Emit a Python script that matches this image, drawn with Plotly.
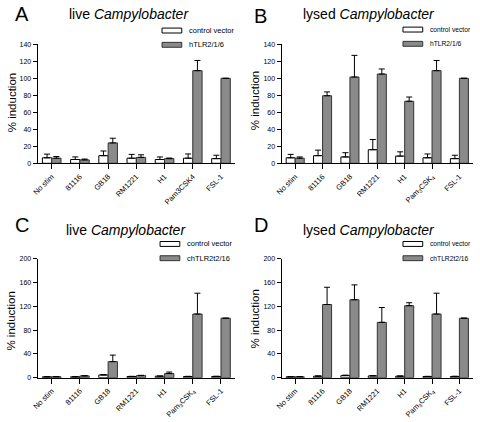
import plotly.graph_objects as go
from plotly.subplots import make_subplots

# ---- data ----
cats_live_h = ["No stim", "81116", "GB18", "RM1221", "H1", "Pam3CSK4", "FSL-1"]
cats_sub = ["No stim", "81116", "GB18", "RM1221", "H1", "Pam<sub>3</sub>CSK<sub>4</sub>", "FSL-1"]

A_ctrl = [6.5, 4.5, 9, 6, 4.5, 6, 5.5]
A_ctrl_err = [4.3, 3, 5.5, 4.5, 3, 5, 4]
A_tlr = [6, 4, 24, 7, 5.5, 109, 100]
A_tlr_err = [2, 1, 5.5, 3, 0.7, 12, 0]

B_ctrl = [6.5, 9, 7.5, 16, 8.5, 6.5, 5.5]
B_ctrl_err = [4, 6.5, 5, 12, 5, 4.5, 4]
B_tlr = [6, 79.5, 101.5, 105, 73, 109, 100]
B_tlr_err = [1.5, 4.5, 25.5, 6, 5, 12, 0]

C_ctrl = [1.5, 1.5, 4.5, 2, 2.5, 2, 2]
C_ctrl_err = [0.3, 0.3, 0.8, 0.3, 0.4, 0.3, 0.5]
C_tlr = [1.5, 3, 27, 3.5, 7, 107, 100]
C_tlr_err = [0.5, 0.5, 11, 0.5, 2.5, 35, 0]

D_ctrl = [1.5, 2.5, 3.5, 3, 2.5, 2, 2]
D_ctrl_err = [0.3, 0.5, 0.8, 0.3, 0.4, 0.3, 0.5]
D_tlr = [1.5, 123, 131, 93, 121, 107, 100]
D_tlr_err = [0.5, 29, 25, 25, 5, 35, 0]

W, H = 480, 422
FONT = "Liberation Sans, Arial, sans-serif"
GRAY = "#8a8a8a"

panels = [
    dict(row=1, col=1, cats=cats_live_h, ctrl=A_ctrl, ce=A_ctrl_err, tlr=A_tlr, te=A_tlr_err,
         ymax=140, dtick=20, letter="A", title="live <i>Campylobacter</i>", tlrname="hTLR2/1/6",
         x0=32, x1=232, ytop=41, ybot=162, titlex=125, letterx=7, lettery=10, titley=10,
         legx=158, legy=27, legfs=7.5, ytx=6, yty=100),
    dict(row=1, col=2, cats=cats_sub, ctrl=B_ctrl, ce=B_ctrl_err, tlr=B_tlr, te=B_tlr_err,
         ymax=140, dtick=20, letter="B", title="lysed <i>Campylobacter</i>", tlrname="hTLR2/1/6",
         x0=279, x1=473, ytop=41, ybot=162, titlex=368, letterx=249, lettery=12, titley=10,
         legx=402, legy=26, legfs=6.7, ytx=253, yty=98),
    dict(row=2, col=1, cats=cats_sub, ctrl=C_ctrl, ce=C_ctrl_err, tlr=C_tlr, te=C_tlr_err,
         ymax=200, dtick=40, letter="C", title="live <i>Campylobacter</i>", tlrname="chTLR2t2/16",
         x0=32, x1=232, ytop=259, ybot=380, titlex=122, letterx=7, lettery=225, titley=230,
         legx=156, legy=244, legfs=7.5, ytx=5, yty=322),
    dict(row=2, col=2, cats=cats_sub, ctrl=D_ctrl, ce=D_ctrl_err, tlr=D_tlr, te=D_tlr_err,
         ymax=200, dtick=40, letter="D", title="lysed <i>Campylobacter</i>", tlrname="chTLR2t2/16",
         x0=279, x1=473, ytop=259, ybot=380, titlex=368, letterx=249, lettery=225, titley=230,
         legx=402, legy=244, legfs=6.7, ytx=252, yty=320),
]

fig = make_subplots(rows=2, cols=2)

def px_x(v):
    return v / W

def px_y(v):
    return 1 - v / H

annotations = []
shapes = []
for i, p in enumerate(panels):
    xs = list(range(len(p["cats"])))
    fig.add_trace(go.Bar(x=xs, y=p["ctrl"], name="control vector", showlegend=False,
                         marker=dict(color="white", line=dict(color="black", width=1)),
                         error_y=dict(type="data", array=p["ce"], arrayminus=[0] * 7, symmetric=False,
                                      color="black", thickness=1, width=3)),
                  row=p["row"], col=p["col"])
    fig.add_trace(go.Bar(x=xs, y=p["tlr"], name=p["tlrname"], showlegend=False,
                         marker=dict(color=GRAY, line=dict(color="#333333", width=1)),
                         error_y=dict(type="data", array=p["te"], arrayminus=[0] * 7, symmetric=False,
                                      color="black", thickness=1, width=3)),
                  row=p["row"], col=p["col"])
    xa = "xaxis" if i == 0 else f"xaxis{i+1}"
    ya = "yaxis" if i == 0 else f"yaxis{i+1}"
    fig.layout[xa].update(domain=[px_x(p["x0"]), px_x(p["x1"])], range=[-0.5, 6.5],
                          tickmode="array", tickvals=xs, ticktext=p["cats"], tickangle=-45,
                          showline=True, linecolor="black", linewidth=1, ticks="outside",
                          ticklen=5, tickcolor="black", showgrid=False, zeroline=False,
                          tickfont=dict(family=FONT, size=7.5, color="black"))
    fig.layout[ya].update(domain=[px_y(p["ybot"]), px_y(p["ytop"])], range=[0, p["ymax"]],
                          dtick=p["dtick"], tick0=0, showline=True, linecolor="black", linewidth=1,
                          ticks="outside", ticklen=4, tickcolor="black", showgrid=False,
                          zeroline=False, tickfont=dict(family=FONT, size=7, color="black"))
    annotations.append(dict(text="% induction", x=px_x(p["ytx"]), y=px_y(p["yty"]), xref="paper",
                            yref="paper", xanchor="center", yanchor="middle", textangle=-90,
                            showarrow=False, font=dict(family=FONT, size=11.5, color="black")))
    annotations.append(dict(text=p["letter"], x=px_x(p["letterx"]), y=px_y(p["lettery"]), xref="paper",
                            yref="paper", xanchor="left", yanchor="middle", showarrow=False,
                            font=dict(family=FONT, size=20, color="black")))
    annotations.append(dict(text=p["title"], x=px_x(p["titlex"]), y=px_y(p["titley"]), xref="paper",
                            yref="paper", xanchor="center", yanchor="middle", showarrow=False,
                            font=dict(family=FONT, size=14, color="black")))
    # legend
    for k, (nm, fc, lc) in enumerate([("control vector", "white", "black"), (p["tlrname"], GRAY, "#333333")]):
        cy = p["legy"] + 14.5 * k
        shapes.append(dict(type="rect", xref="paper", yref="paper",
                           x0=px_x(p["legx"]), x1=px_x(p["legx"] + 20),
                           y0=px_y(cy + 2.5), y1=px_y(cy - 2.5),
                           fillcolor=fc, line=dict(color=lc, width=1)))
        annotations.append(dict(text=nm, x=px_x(p["legx"] + 25), y=px_y(cy), xref="paper", yref="paper",
                                xanchor="left", yanchor="middle", showarrow=False,
                                font=dict(family=FONT, size=p["legfs"], color="black")))

fig.update_layout(width=W, height=H, margin=dict(l=0, r=0, t=0, b=0),
                  paper_bgcolor="white", plot_bgcolor="white",
                  barmode="group", bargap=0.34, bargroupgap=0.0,
                  annotations=annotations, shapes=shapes, showlegend=False)

fig.write_html("out.html", config={"displayModeBar": False},
               post_script="document.body.style.margin='0';document.body.style.padding='0';")
